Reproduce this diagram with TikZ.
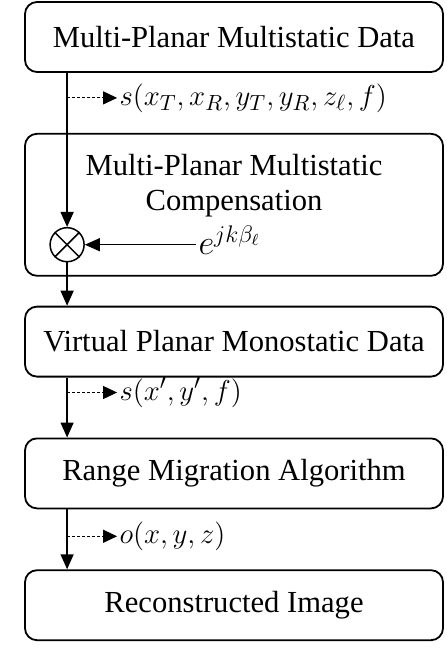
\documentclass[tikz,border=0pt]{standalone}
\usepackage{amsmath}
\usepackage{fontspec}
\setmainfont{Liberation Serif}
\usetikzlibrary{arrows.meta, positioning, calc}
\tikzset{
    block/.style={
        rectangle,
        draw=black,
        line width=0.9pt,
        rounded corners=6pt,
        minimum width=209pt,
        minimum height=35pt,
        align=center,
        font=\fontsize{15.3}{17.5}\selectfont
    },
    wire/.style={
        draw=black,
        line width=0.75pt,
        -{Triangle[length=7.5pt,width=6.5pt]}
    },
    dataline/.style={
        draw=black,
        line width=0.5pt,
        dash pattern=on 1.5pt off 1pt,
        -{Triangle[length=7pt,width=6.5pt]}
    },
    mult/.style={
        circle,
        draw=black,
        line width=0.75pt,
        minimum size=17pt,
        inner sep=0pt
    },
    sig/.style={
        font=\fontsize{15}{18}\selectfont,
        inner sep=1pt
    }
}

\begin{document}
\begin{tikzpicture}[node distance=30pt]
\useasboundingbox (0,0) rectangle (223pt,-334pt);

% Blocks
\node[block] (mpdata) at (117pt,-18.5pt) {Multi-Planar Multistatic Data};
\node[block, minimum height=71pt, below=30pt of mpdata] (comp) {};
\node[font=\fontsize{15.3}{17.5}\selectfont, align=center, below=7pt of comp.north] (comptxt) {Multi-Planar Multistatic\\Compensation};
\node[block, below=14.5pt of comp] (vpdata) {Virtual Planar Monostatic Data};
\node[block, below=of vpdata] (rma) {Range Migration Algorithm};
\node[block, below=of rma] (recon) {Reconstructed Image};

% Compensation multiplier
\node[mult] (mul) at ($(comp.south west)+(21.5pt,16pt)$) {};
\draw[line width=0.75pt] (mul.north west) -- (mul.south east);
\draw[line width=0.75pt] (mul.north east) -- (mul.south west);
\node[sig, font=\fontsize{16.5}{18}\selectfont, anchor=base west] (phase) at ($(mul)+(64.5pt,-5pt)$) {$e^{jk\beta_\ell}$};
\draw[wire] (phase.west |- mul) -- (mul);

% Main flow
\draw[wire] (mul |- mpdata.south) -- (mul);
\draw[wire] (mul) -- (mul |- vpdata.north);
\draw[wire] (mul |- vpdata.south) -- (mul |- rma.north);
\draw[wire] (mul |- rma.south) -- (mul |- recon.north);

% Signals
\coordinate (d1) at ($(mul |- mpdata.south)+(0,-12.5pt)$);
\coordinate (d2) at ($(mul |- vpdata.south)+(0,-7.5pt)$);
\coordinate (d3) at ($(mul |- rma.south)+(0,-13.5pt)$);
\node[sig, anchor=west] (sig1) at ($(d1)+(25pt,0)$) {$s(x_T,x_R,y_T,y_R,z_\ell,f)$};
\node[sig, anchor=west] (sig2) at ($(d2)+(25pt,0)$) {$s(x',y',f)$};
\node[sig, anchor=west] (sig3) at ($(d3)+(25pt,0)$) {$o(x,y,z)$};
\draw[dataline] (d1) -- (sig1.west);
\draw[dataline] (d2) -- (sig2.west);
\draw[dataline] (d3) -- (sig3.west);

\end{tikzpicture}
\end{document}
